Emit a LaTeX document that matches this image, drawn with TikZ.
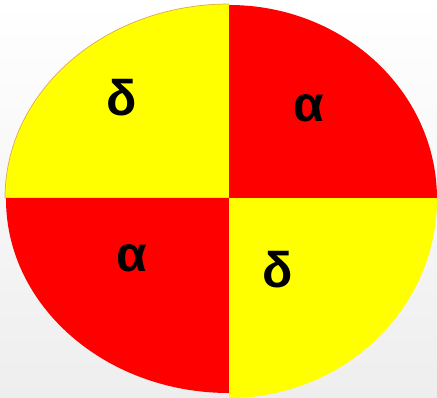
\documentclass[tikz,border=0pt]{standalone}
\usepackage{fontspec}
\setmainfont{Liberation Sans}

\begin{document}
\begin{tikzpicture}[x=1pt,y=-1pt,line join=round,
  qlabel/.style={font=\fontsize{50}{50}\selectfont\bfseries,text=black,inner sep=0pt},
  rim/.style={draw=rimcol,line width=0.7pt}]
  \definecolor{quadred}{RGB}{255,0,0}
  \definecolor{quadyel}{RGB}{255,255,0}
  \definecolor{rimcol}{RGB}{222,170,70}
  \definecolor{bgcol}{RGB}{238,238,238}

  % background
  \useasboundingbox (0,0) rectangle (437,398);
  \shade[top color=white,bottom color=bgcol] (0,0) rectangle (437,398);

  % ---- four quarters of the ellipse ----
  % top left (yellow)
  \begin{scope}
    \clip (0,0) rectangle (229,199);
    \fill[quadyel] (229,199) ellipse [x radius=224,y radius=195];
  \end{scope}
  \draw[rim] (229,198) -- (5,198) arc[start angle=180,end angle=270,x radius=224,y radius=194];
  % top right (red)
  \begin{scope}
    \clip (229,0) rectangle (437,199);
    \fill[quadred] (229,199) ellipse [x radius=208,y radius=194];
  \end{scope}
  % bottom left (red)
  \begin{scope}
    \clip (0,199) rectangle (229,398);
    \fill[quadred] (229,199) ellipse [x radius=223,y radius=194];
  \end{scope}
  % bottom right (yellow)
  \begin{scope}
    \clip (229,199) rectangle (437,398);
    \fill[quadyel] (229,199) ellipse [x radius=208,y radius=199];
  \end{scope}

  % labels
  \node[qlabel] (deltaTL) at (122,98) {δ};
  \node[qlabel] (alphaTR) at (309,108) {α};
  \node[qlabel] (alphaBL) at (132,258) {α};
  \node[qlabel] (deltaBR) at (278,270) {δ};
\end{tikzpicture}
\end{document}
